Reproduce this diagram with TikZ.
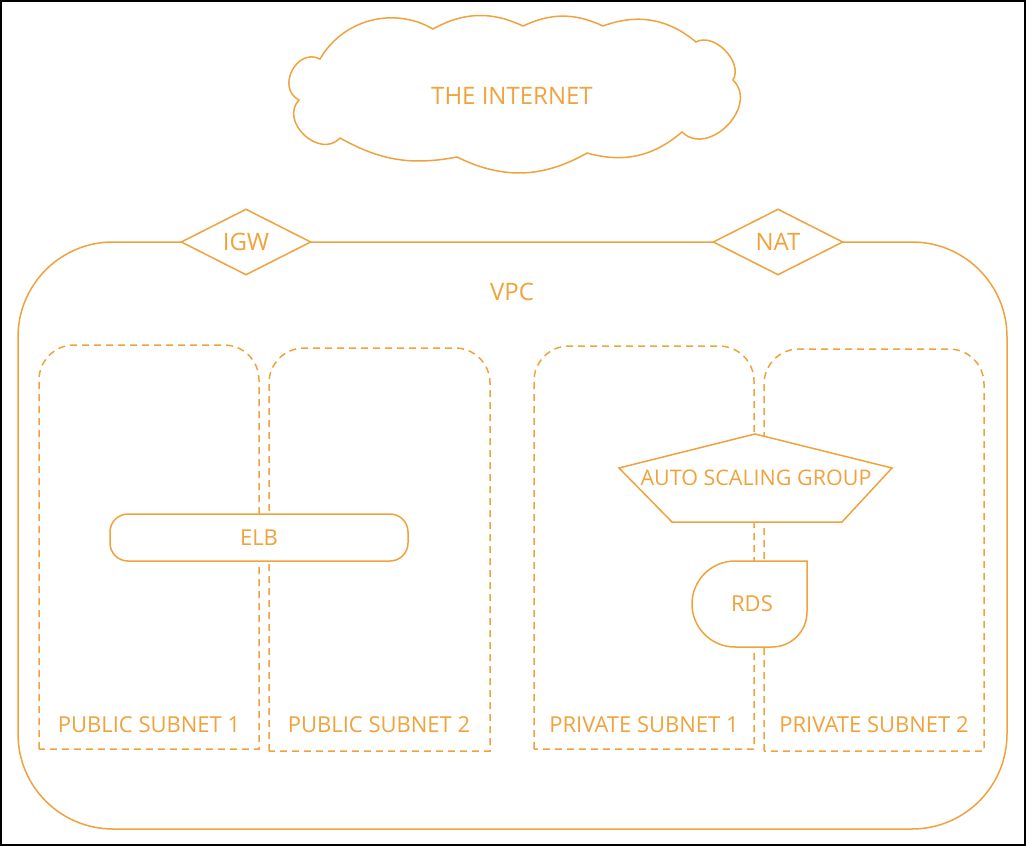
\documentclass[tikz,border=0pt]{standalone}
\usepackage{fontspec}
\setmainfont{Open Sans}
\usetikzlibrary{shapes.geometric}
\definecolor{aws}{RGB}{240,163,60}
\begin{document}
\begin{tikzpicture}[x=1pt,y=-1pt,line width=1.5pt,
  txt/.style={text=aws,inner sep=0pt,font=\fontsize{22}{26}\selectfont},
  bigtxt/.style={text=aws,inner sep=0pt,font=\fontsize{24}{28}\selectfont},
  solidline/.style={draw=aws,line width=1.5pt},
  subnetline/.style={draw=aws,line width=1.5pt,dash pattern=on 7pt off 5pt},
  gw/.style={diamond,draw=aws,fill=white,line width=1.5pt,minimum width=130pt,minimum height=66pt,inner sep=0pt,text=aws,font=\fontsize{24}{28}\selectfont}]
\useasboundingbox (0,0) rectangle (1026,846);
\fill[white] (0,0) rectangle (1026,846);
\draw[black,line width=2pt] (1,1) rectangle (1025,845);
% cloud
\draw[solidline,fill=white] (299,100) to[bend left=90,looseness=1.45] (320,59)
  to[bend left=45] (433,29) to[bend left=27] (523,26) to[bend left=25] (603,26)
  to[bend left=30] (696,42) to[bend left=75] (733,80)
  to[bend left=90,looseness=1.3] (682,132) to[bend left=28] (587,153)
  to[bend left=28] (457,157) to[bend left=20] (340,138)
  to[bend left=90,looseness=1.35] (299,100) -- cycle;
\node[bigtxt] (internet) at (512,96) {THE INTERNET};
% VPC
\draw[solidline,rounded corners=95pt] (18,242) rectangle (1007,829);
\node[bigtxt] (vpc) at (512,292) {VPC};
% subnets
\draw[subnetline] (39,749) -- (39,380) arc(180:270:35) -- (224,345) arc(270:360:35) -- (259,749) -- cycle;
\draw[subnetline] (269,751) -- (269,383) arc(180:270:35) -- (455,348) arc(270:360:35) -- (490,751) -- cycle;
\draw[subnetline] (534,749) -- (534,381) arc(180:270:35) -- (719,346) arc(270:360:35) -- (754,749) -- cycle;
\draw[subnetline] (764,751) -- (764,384) arc(180:270:35) -- (949,349) arc(270:360:35) -- (984,751) -- cycle;
\node[txt] (pub1) at (149,725) {PUBLIC SUBNET 1};
\node[txt] (pub2) at (379,725) {PUBLIC SUBNET 2};
\node[txt] (priv1) at (644,725) {PRIVATE SUBNET 1};
\node[txt] (priv2) at (874,725) {PRIVATE SUBNET 2};
% gateways
\node[gw] (igw) at (246,242) {IGW};
\node[gw] (nat) at (778,242) {NAT};
% ELB
\node[draw=aws,fill=white,line width=1.5pt,rounded corners=18pt,minimum width=298pt,minimum height=47pt,inner sep=0pt,text=aws,font=\fontsize{22}{26}\selectfont] (elb) at (259,537.5) {ELB};
% ASG
\draw[solidline,fill=white] (755,434) -- (892,468) -- (842,522) -- (672,522) -- (619,468) -- cycle;
\node[txt,font=\fontsize{21.5}{26}\selectfont] (asg) at (756,478) {AUTO SCALING GROUP};
% RDS
\draw[solidline,fill=white] (807,561) -- (807,612) arc(0:90:35) -- (735,647) arc(90:270:43) -- cycle;
\node[txt] (rds) at (752,604) {RDS};
\end{tikzpicture}
\end{document}
